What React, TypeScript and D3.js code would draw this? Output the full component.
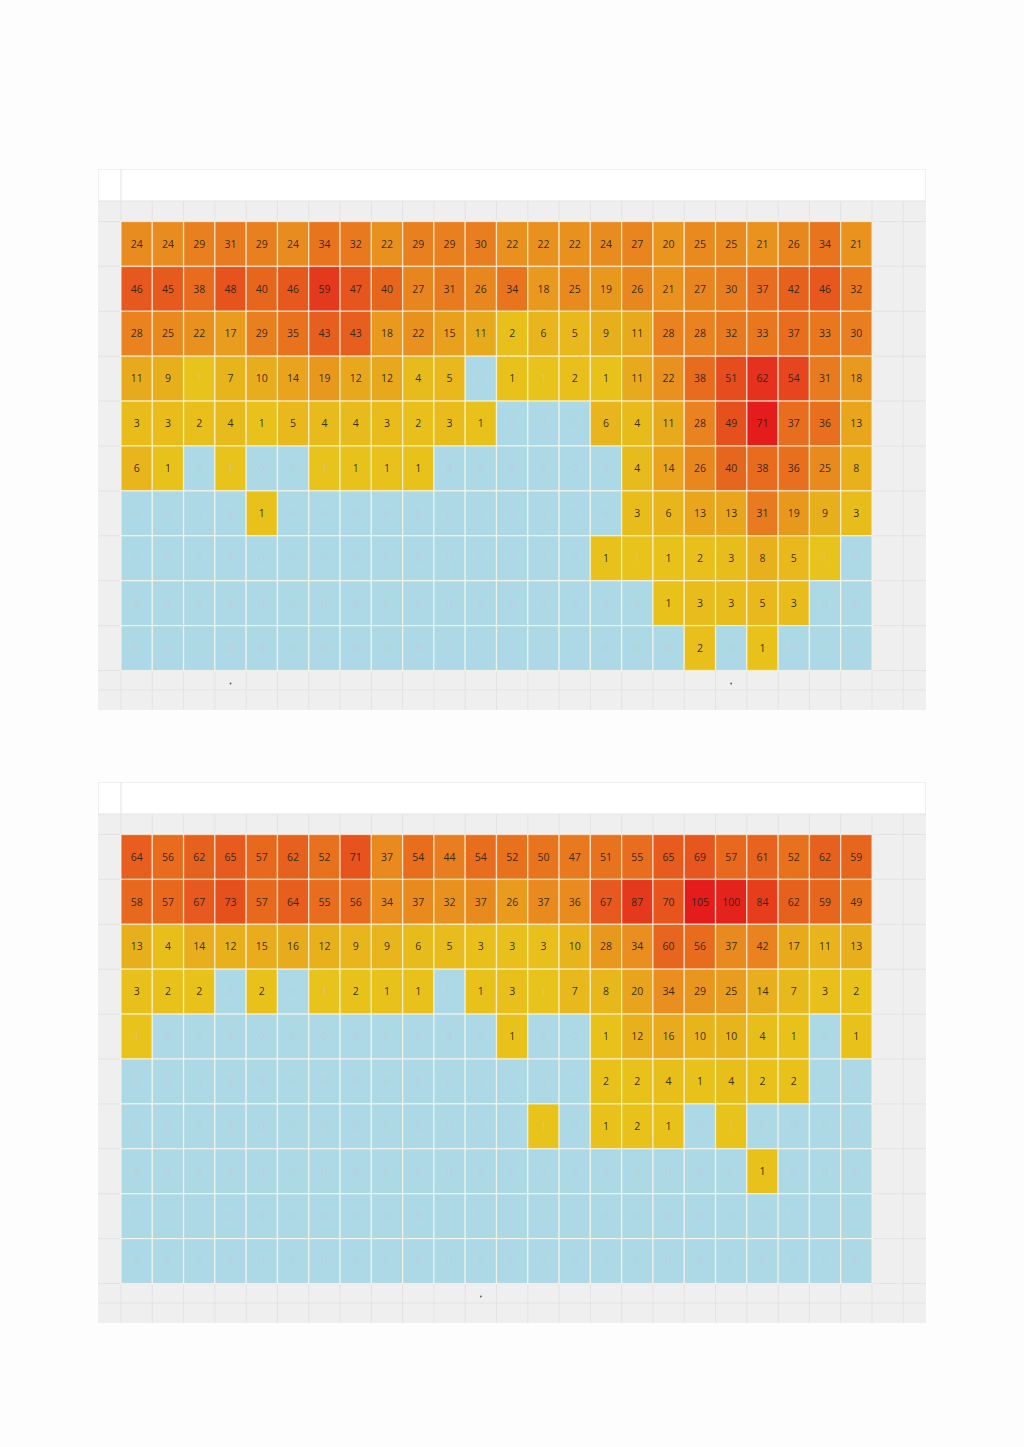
import React from 'react';
import * as d3 from 'd3';

// ---------- data ----------
const columns = ['0','1','2','3','4','5','6','7','8','9','10','11','12','13','14','15','16','17','18','19','20','21','22','23'];
const rowsCat = ['r1','r2','r3','r4','r5','r6','r7','r8','r9','r10'];
const T = 0.5; // trace value (faint label)

const topValues: number[][] = [
  [24,24,29,31,29,24,34,32,22,29,29,30,22,22,22,24,27,20,25,25,21,26,34,21],
  [46,45,38,48,40,46,59,47,40,27,31,26,34,18,25,19,26,21,27,30,37,42,46,32],
  [28,25,22,17,29,35,43,43,18,22,15,11,2,6,5,9,11,28,28,32,33,37,33,30],
  [11,9,T,7,10,14,19,12,12,4,5,0,1,T,2,1,11,22,38,51,62,54,31,18],
  [3,3,2,4,1,5,4,4,3,2,3,1,0,0,0,6,4,11,28,49,71,37,36,13],
  [6,1,0,T,0,0,T,1,1,1,0,0,0,0,0,0,4,14,26,40,38,36,25,8],
  [0,0,0,0,1,0,0,0,0,0,0,0,0,0,0,0,3,6,13,13,31,19,9,3],
  [0,0,0,0,0,0,0,0,0,0,0,0,0,0,0,1,T,1,2,3,8,5,T,0],
  [0,0,0,0,0,0,0,0,0,0,0,0,0,0,0,0,0,1,3,3,5,3,0,0],
  [0,0,0,0,0,0,0,0,0,0,0,0,0,0,0,0,0,0,2,0,1,0,0,0],
];

const bottomValues: number[][] = [
  [64,56,62,65,57,62,52,71,37,54,44,54,52,50,47,51,55,65,69,57,61,52,62,59],
  [58,57,67,73,57,64,55,56,34,37,32,37,26,37,36,67,87,70,105,100,84,62,59,49],
  [13,4,14,12,15,16,12,9,9,6,5,3,3,3,10,28,34,60,56,37,42,17,11,13],
  [3,2,2,0,2,0,T,2,1,1,0,1,3,T,7,8,20,34,29,25,14,7,3,2],
  [T,0,0,0,0,0,0,0,0,0,0,0,1,0,0,1,12,16,10,10,4,1,0,1],
  [0,0,0,0,0,0,0,0,0,0,0,0,0,0,0,2,2,4,1,4,2,2,0,0],
  [0,0,0,0,0,0,0,0,0,0,0,0,0,T,0,1,2,1,0,T,0,0,0,0],
  [0,0,0,0,0,0,0,0,0,0,0,0,0,0,0,0,0,0,0,0,1,0,0,0],
  [0,0,0,0,0,0,0,0,0,0,0,0,0,0,0,0,0,0,0,0,0,0,0,0],
  [0,0,0,0,0,0,0,0,0,0,0,0,0,0,0,0,0,0,0,0,0,0,0,0],
];

const topAxisMarks = ['3','19'];
const bottomAxisMarks = ['11'];

// ---------- layout ----------
const W = 1024;
const H = 1447;
const panelLeft = 98;
const panelRight = 926;
const heatLeft = 121;
const heatRight = 872;
const headerH = 32;
const heatOffset = 52.5;
const heatH = 449;
const panelH = 541;

const FONT = '"Open Sans", "Noto Sans", sans-serif';

function Panel({ y0, data, marks }: { y0: number; data: number[][]; marks: string[] }) {
  const max = d3.max(data.flat()) as number;
  const x = d3.scaleBand<string>().domain(columns).range([heatLeft, heatRight]);
  const heatTop = y0 + heatOffset;
  const heatBottom = heatTop + heatH;
  const y = d3.scaleBand<string>().domain(rowsCat).range([heatTop, heatBottom]);
  const color = d3
    .scaleLinear<string>()
    .domain([0, max * 0.35, max])
    .range(['#e8c41b', '#e98a1f', '#e41c1c'])
    .interpolate(d3.interpolateRgb)
    .clamp(true);

  const bw = x.bandwidth();
  const bh = y.bandwidth();
  const panelBottom = y0 + panelH;
  const vLines: number[] = [heatLeft, ...columns.map((c) => (x(c) as number) + bw), heatRight + bw];
  const hLines: number[] = [
    y0 + headerH,
    heatTop,
    ...rowsCat.map((r) => (y(r) as number) + bh),
    heatBottom + 19.5,
  ];

  return (
    <g>
      <rect x={panelLeft} y={y0} width={panelRight - panelLeft} height={panelH} fill="#efefef" />
      <rect x={panelLeft} y={y0} width={panelRight - panelLeft} height={headerH} fill="#ffffff" />
      <rect x={panelLeft + 0.5} y={y0 + 0.5} width={panelRight - panelLeft - 1} height={headerH} fill="none" stroke="#f0f0f0" />
      {vLines.map((vx, i) => (
        <line key={'v' + i} x1={vx} x2={vx} y1={i === 0 ? y0 : y0 + headerH} y2={panelBottom} stroke="#e3e3e3" strokeWidth={1} />
      ))}
      {hLines.map((hy, i) => (
        <line key={'h' + i} x1={panelLeft} x2={panelRight} y1={hy} y2={hy} stroke="#e3e3e3" strokeWidth={1} />
      ))}
      {data.map((row, ri) =>
        row.map((v, ci) => {
          const cx = x(columns[ci]) as number;
          const cy = y(rowsCat[ri]) as number;
          const fill = v === 0 ? '#add8e6' : color(v);
          return (
            <rect
              key={`c${ri}-${ci}`}
              x={cx}
              y={cy}
              width={bw}
              height={bh}
              fill={fill}
              stroke="rgba(255,250,235,0.65)"
              strokeWidth={1.3}
            />
          );
        })
      )}
      {data.map((row, ri) =>
        row.map((v, ci) => {
          const cx = (x(columns[ci]) as number) + bw / 2;
          const cy = (y(rowsCat[ri]) as number) + bh / 2;
          const faint = v === 0 || v === T;
          const label = v === 0 ? '0' : v === T ? '1' : String(v);
          return (
            <text
              key={`t${ri}-${ci}`}
              x={cx}
              y={cy}
              dy="0.35em"
              textAnchor="middle"
              fontFamily={FONT}
              fontSize={10.5}
              fill={faint ? '#c8c8c8' : '#2a2218'}
              fillOpacity={faint ? 0.5 : 0.92}
            >
              {label}
            </text>
          );
        })
      )}
      {marks.map((m) => (
        <circle key={'m' + m} cx={(x(m) as number) + bw / 2} cy={heatBottom + 13} r={0.9} fill="#555" />
      ))}
    </g>
  );
}

export default function App() {
  return (
    <svg
      width={W}
      height={H}
      viewBox={`0 0 ${W} ${H}`}
      style={{ position: 'absolute', left: 0, top: 0, display: 'block', background: '#ffffff' }}
    >
      <rect x={0} y={0} width={W} height={H} fill="#fdfdfd" />
      <Panel y0={169} data={topValues} marks={topAxisMarks} />
      <Panel y0={782} data={bottomValues} marks={bottomAxisMarks} />
    </svg>
  );
}
